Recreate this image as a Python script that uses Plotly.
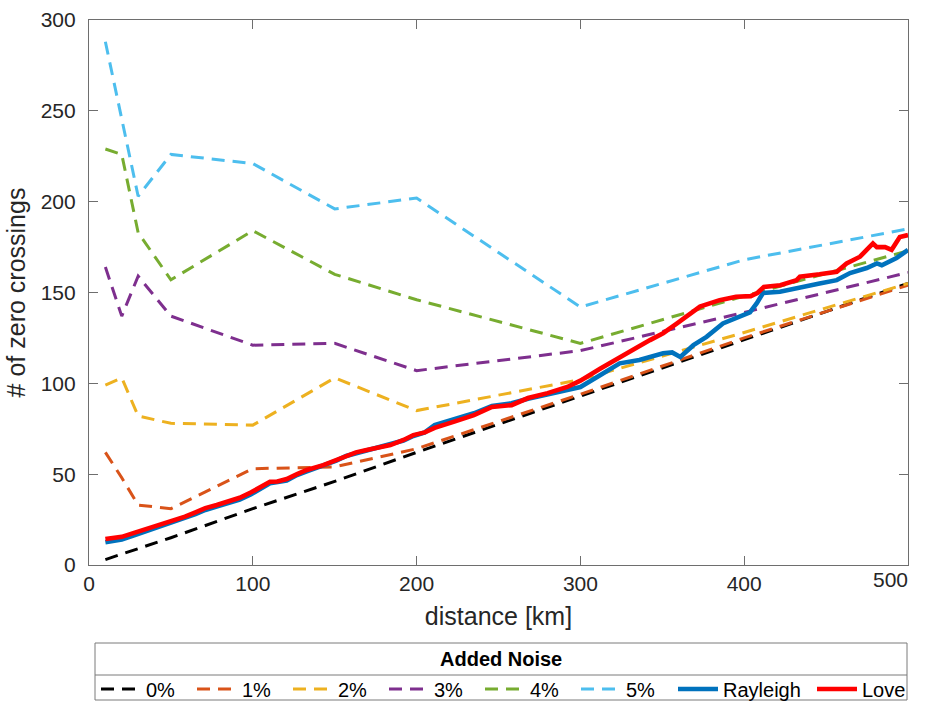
import plotly.graph_objects as go

# Zero-crossing counts vs. distance for increasing added noise levels
noise_x = [10, 20, 30, 50, 100, 150, 200, 300, 400, 500]
noise_0 = [3, 6, 9, 15, 31, 46, 62, 93, 124, 155]
noise_1 = [62, 48, 33, 31, 53, 54, 64, 94, 125, 154]
noise_2 = [99, 103, 82, 78, 77, 103, 85, 102, 128, 155]
noise_3 = [164, 137, 159, 137, 121, 122, 107, 118, 139, 161]
noise_4 = [229, 226, 183, 157, 184, 160, 146, 122, 148, 173]
noise_5 = [288, 246, 203, 226, 221, 196, 202, 142, 168, 185]

noise_labels = ["0%", "1%", "2%", "3%", "4%", "5%"]
noise_colors = ["#000000", "#D95319", "#EDB120", "#7E2F8E", "#77AC30", "#4DBEEE"]

# Noise-free measurements
rayleigh_x = [10, 20, 28, 36, 44, 51, 58.6, 65, 71, 78, 85, 92, 99, 106, 110.5,
              120.7, 127, 133, 143, 151, 157, 169.5, 184, 192, 198, 205, 211,
              223, 235, 246, 258, 268, 280, 292, 300, 312, 324, 336, 350.5, 356,
              361, 369, 377, 387, 397, 403.5, 407.6, 411.5, 421.8, 434, 446,
              456.5, 464.6, 474.8, 481, 484, 493, 500]
rayleigh_y = [12.5, 14, 16.5, 19, 21, 23.5, 25.5, 28, 30.3, 32, 34, 36, 39, 42.5,
              45, 46.5, 49.5, 51.5, 54.5, 57.5, 60, 63, 66, 68.5, 71, 73, 77,
              80, 83.5, 87.5, 89, 91.5, 94, 96.5, 98, 104.5, 111, 112.8, 116.6,
              117, 114.5, 121, 125.6, 133, 136.7, 139, 144, 149.7, 150.4, 153,
              155, 156.8, 160.7, 163.5, 166, 165, 169, 173.4]

love_x = [10, 20, 28, 36, 44, 51, 58.6, 65, 71, 78, 85, 92, 99, 106, 110.5, 115,
          120.7, 127, 133, 143, 151, 157, 163, 169.5, 176, 184, 192, 198, 205,
          211, 223, 235, 246, 258, 268, 280, 292, 300, 312, 324, 334, 342.5,
          350.5, 359, 367, 373, 385, 395, 404, 408, 412, 422, 432, 434, 446,
          456.5, 462.5, 470.7, 478.6, 481, 486, 490, 495, 500]
love_y = [14.3, 15.5, 17.8, 20, 22, 24.5, 26.6, 29, 31.3, 33, 34.8, 37, 40, 43.5,
          45.8, 46, 47.3, 50, 52.3, 55, 57.8, 60.5, 62, 63.3, 64.5, 66, 68.8,
          71.5, 73, 75.5, 78.9, 82.5, 87, 88, 91.9, 94.6, 98, 101.5, 108, 114.6,
          119.4, 123.8, 127.6, 133, 138.6, 142.2, 145.8, 147.7, 148, 149.7, 153,
          154, 156.8, 158.7, 160, 161.4, 166, 169.7, 177, 175, 175, 173.5,
          180.5, 181.6]

# Axis ticks; the last x label sits left of its tick on a companion axis
x_tick_vals = [0, 100, 200, 300, 400, 500]
x_tick_text = ["0", "100", "200", "300", "400", ""]
x_end_val = [500]
x_end_text = ["500"]
y_tick_vals = [0, 50, 100, 150, 200, 250, 300]

FONT = "Liberation Sans, Arial, Helvetica, sans-serif"
AXIS_COLOR = "#6e6e6e"
TEXT_COLOR = "#262626"

W, H = 925, 702
L, R, T, B = 89, 17, 20, 137
pw, ph = W - L - R, H - T - B


def px_x(p):
    return (p - L) / pw


def px_y(p):
    return (H - B - p) / ph


fig = go.Figure()

noise_series = [noise_0, noise_1, noise_2, noise_3, noise_4, noise_5]
for label, color, ys in zip(noise_labels, noise_colors, noise_series):
    fig.add_trace(go.Scatter(
        x=noise_x, y=ys, mode="lines", name=label, legend="legend",
        line=dict(color=color, width=3, dash="13px,8px"),
    ))

fig.add_trace(go.Scatter(
    x=rayleigh_x, y=rayleigh_y, mode="lines", name="Rayleigh", legend="legend2",
    line=dict(color="#0072BD", width=4.6),
))
# Love sits on the companion x axis (same range), drawn on top
fig.add_trace(go.Scatter(
    x=love_x, y=love_y, mode="lines", name="Love", legend="legend2",
    xaxis="x2", yaxis="y",
    line=dict(color="#FF0000", width=4.6),
))

# Legend frame with a divider under its title
fig.add_shape(type="rect", xref="paper", yref="paper",
              x0=px_x(95), x1=px_x(907), y0=px_y(700), y1=px_y(643),
              line=dict(color="#7a7a7a", width=1), fillcolor="rgba(0,0,0,0)")
fig.add_shape(type="line", xref="paper", yref="paper",
              x0=px_x(95), x1=px_x(907), y0=px_y(675), y1=px_y(675),
              line=dict(color="#7a7a7a", width=1))
fig.add_annotation(text="<b>Added Noise</b>", xref="paper", yref="paper",
                   x=px_x(501), y=px_y(659), showarrow=False,
                   xanchor="center", yanchor="middle",
                   font=dict(family=FONT, size=20, color="#000000"))

tick_font = dict(family=FONT, size=21, color=TEXT_COLOR)
axis_common = dict(
    showline=True, linecolor=AXIS_COLOR, linewidth=1.2,
    mirror="ticks", ticks="inside", ticklen=9, tickcolor=AXIS_COLOR,
    showgrid=False, zeroline=False, automargin=False, tickfont=tick_font,
)

legend_common = dict(
    orientation="h", xref="container", yref="container",
    xanchor="left", yanchor="middle", y=1 - 689 / H,
    font=dict(family=FONT, size=20, color="#000000"),
    bgcolor="rgba(0,0,0,0)", borderwidth=0, itemwidth=40,
    entrywidthmode="pixels",
)

fig.update_layout(
    width=W, height=H,
    margin=dict(l=L, r=R, t=T, b=B, autoexpand=False),
    paper_bgcolor="white", plot_bgcolor="white",
    font=dict(family=FONT, color=TEXT_COLOR),
    xaxis=dict(range=[0, 500], tickmode="array", tickvals=x_tick_vals,
               ticktext=x_tick_text,
               title=dict(text="distance [km]", font=dict(family=FONT, size=25, color=TEXT_COLOR),
                          standoff=13),
               **axis_common),
    xaxis2=dict(range=[0, 500], matches="x", overlaying="x", side="bottom", anchor="y",
                tickmode="array", tickvals=x_end_val, ticktext=x_end_text,
                ticklabelposition="outside left", ticks="", showline=False,
                showgrid=False, zeroline=False, automargin=False,
                tickfont=tick_font),
    yaxis=dict(range=[0, 300], tickmode="array", tickvals=y_tick_vals,
               ticklabelstandoff=8,
               title=dict(text="# of zero crossings", font=dict(family=FONT, size=25, color=TEXT_COLOR),
                          standoff=7),
               **axis_common),
    legend=dict(x=96 / W, entrywidth=41, **legend_common),
    legend2=dict(x=673 / W, entrywidth=84, **legend_common),
    showlegend=True,
)

fig.write_html("out.html")
